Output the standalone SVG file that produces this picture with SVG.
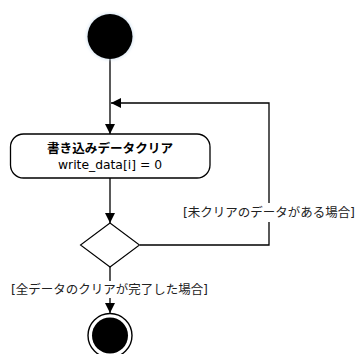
<svg xmlns="http://www.w3.org/2000/svg" width="359" height="354" viewBox="0 0 359 354">
<style>
.ln{fill:none;stroke:#000;stroke-width:1.3}
.t{font-family:"DejaVu Sans","Noto Sans CJK JP",sans-serif;font-size:12.3px;fill:#000;text-anchor:middle;dominant-baseline:central}
.b{font-weight:bold;font-size:12.5px}
.lbl{font-size:12.5px;fill:#222}
</style>
<defs>
<marker id="ah" viewBox="0 0 10 10" refX="10" refY="5" markerWidth="10" markerHeight="10" markerUnits="userSpaceOnUse" orient="auto">
<path d="M0,0 L10,5 L0,10 Z" fill="#000"/>
</marker>
<filter id="glow" x="-50%" y="-50%" width="200%" height="200%">
<feGaussianBlur stdDeviation="1.5"/>
</filter>
</defs>
<g id="connectors">
<line class="ln" x1="110" y1="59" x2="110" y2="134" marker-end="url(#ah)"/>
<line class="ln" x1="110" y1="178" x2="110" y2="223" marker-end="url(#ah)"/>
<polyline class="ln" points="140,245 269,245 269,103 111,103" marker-end="url(#ah)"/>
<line class="ln" x1="110" y1="267" x2="110" y2="313" marker-end="url(#ah)"/>
<g id="label-loop">
<rect x="182" y="203" width="174" height="19" fill="#fff"/>
<text class="t lbl" x="269" y="212.5" textLength="172" lengthAdjust="spacingAndGlyphs">[未クリアのデータがある場合]</text>
</g>
<g id="label-done">
<rect x="10" y="281" width="199" height="17" fill="#fff"/>
<text class="t lbl" x="109.5" y="289.5" textLength="197" lengthAdjust="spacingAndGlyphs">[全データのクリアが完了した場合]</text>
</g>
</g>
<g id="start">
<circle cx="110" cy="36.5" r="23.5" fill="#bcd4ea" filter="url(#glow)" opacity="0.6"/>
<circle cx="110" cy="36.5" r="22.5" fill="#000"/>
</g>
<g id="activity">
<rect x="10.5" y="134" width="199.5" height="44" rx="13" ry="13" fill="#fff" stroke="#000" stroke-width="1.3"/>
<text class="t b" x="110" y="148" textLength="126" lengthAdjust="spacingAndGlyphs">書き込みデータクリア</text>
<text class="t" x="110" y="164.5" textLength="104" lengthAdjust="spacingAndGlyphs">write_data[i] = 0</text>
</g>
<g id="decision">
<polygon points="110,223 139.5,245 110,267 80.5,245" fill="#fff" stroke="#000" stroke-width="1.1"/>
</g>
<g id="end">
<circle cx="110" cy="335.5" r="22" fill="#fff" stroke="#000" stroke-width="1.4"/>
<circle cx="110" cy="335.5" r="18" fill="#000"/>
</g>
</svg>
